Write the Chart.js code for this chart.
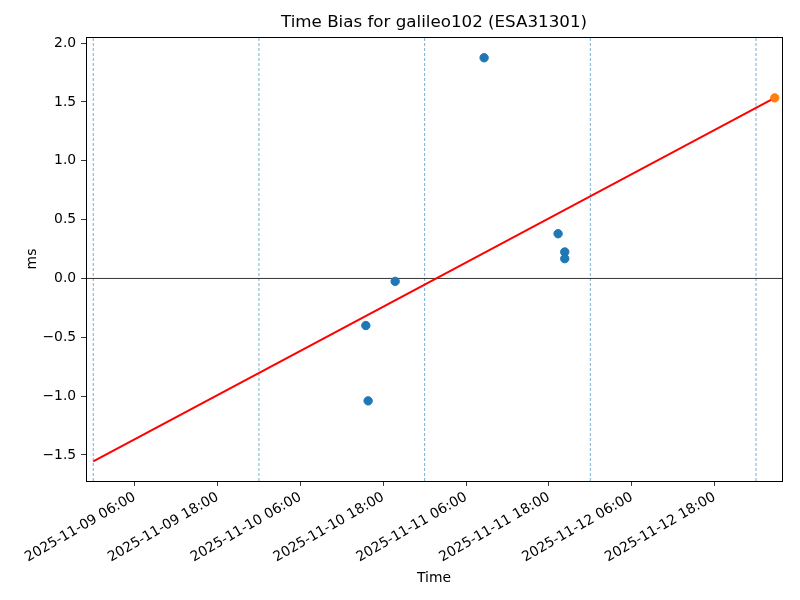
<!DOCTYPE html>
<html><head><meta charset="utf-8">
<script src="https://cdn.jsdelivr.net/npm/chart.js@4"></script>
<style>html,body{margin:0;padding:0;background:#fff}</style>
</head><body>
<canvas id="c" width="800" height="600"></canvas>
<script>
const chartTitle = 'Time Bias for galileo102 (ESA31301)';
const xAxisTitle = 'Time';
const yAxisTitle = 'ms';
const pointTimes = ['2025-11-10T15:29','2025-11-10T15:49','2025-11-10T19:44','2025-11-11T08:37','2025-11-11T19:20','2025-11-11T20:18','2025-11-11T20:18'];
const pointValues = [-0.40, -1.04, -0.025, 1.875, 0.38, 0.225, 0.168];
const predTimes = ['2025-11-13T02:43'];
const predValues = [1.534];
const fitTimes = ['2025-11-09T00:00','2025-11-13T02:43'];
const fitValues = [-1.555, 1.534];
const dayLines = ['2025-11-09T00:00','2025-11-10T00:00','2025-11-11T00:00','2025-11-12T00:00','2025-11-13T00:00'];
const xTickLabels = ['2025-11-09 06:00','2025-11-09 18:00','2025-11-10 06:00','2025-11-10 18:00','2025-11-11 06:00','2025-11-11 18:00','2025-11-12 06:00','2025-11-12 18:00'];
const yTicks = [-1.5, -1.0, -0.5, 0.0, 0.5, 1.0, 1.5, 2.0];
const xRange = ['2025-11-08T22:57','2025-11-13T03:46'];
const yRange = [-1.721, 2.051];

const T = s => Date.parse(s.replace(' ', 'T') + ':00Z');
const pad2 = n => String(n).padStart(2, '0');
const fmt = v => { const d = new Date(v); return d.getUTCFullYear() + '-' + pad2(d.getUTCMonth()+1) + '-' + pad2(d.getUTCDate()) + ' ' + pad2(d.getUTCHours()) + ':' + pad2(d.getUTCMinutes()); };
const fmtY = v => (v < 0 ? '\u2212' : '') + Math.abs(v).toFixed(1);

const FONT = 'DejaVu Sans';
const datasets = [];
datasets.push({ data: predTimes.map((t,i)=>({x:T(t), y:predValues[i]})), backgroundColor:'#ff7f0e', borderColor:'#ff7f0e', pointRadius:4.2, showLine:false });
datasets.push({ data: fitTimes.map((t,i)=>({x:T(t), y:fitValues[i]})), borderColor:'#ff0000', borderWidth:2, pointRadius:0, showLine:true });
datasets.push({ data: pointTimes.map((t,i)=>({x:T(t), y:pointValues[i]})), backgroundColor:'#1f77b4', borderColor:'#1f77b4', pointRadius:4.2, showLine:false });
datasets.push({ data: [{x:T(xRange[0]), y:0},{x:T(xRange[1]), y:0}], borderColor:'#000', borderWidth:0.8, pointRadius:0, showLine:true });
dayLines.forEach(d => datasets.push({ data:[{x:T(d), y:yRange[0]},{x:T(d), y:yRange[1]}], borderColor:'#1f77b4', borderWidth:0.6, borderDash:[3,2], pointRadius:0, showLine:true }));

const framePlugin = {
  id: 'frame',
  afterDatasetsDraw(chart) {
    const {ctx, chartArea: a} = chart;
    ctx.save(); ctx.strokeStyle = '#000'; ctx.lineWidth = 1;
    ctx.strokeRect(Math.round(a.left) + 0.5, Math.round(a.top) + 0.5, Math.round(a.right - a.left), Math.round(a.bottom - a.top));
    ctx.restore();
  }
};

new Chart(document.getElementById('c'), {
  type: 'scatter',
  data: { datasets },
  plugins: [framePlugin],
  options: {
    responsive: false, animation: false, devicePixelRatio: 1,
    layout: { padding: { left: 0, right: 18, top: 0, bottom: 0 } },
    plugins: {
      legend: { display: false }, tooltip: { enabled: false },
      title: { display: true, text: chartTitle, fullSize: false, color: '#000', font: { family: FONT, size: 16.7, weight: 'normal' }, padding: { top: 13, bottom: 4 } }
    },
    scales: {
      x: {
        type: 'linear', min: T(xRange[0]), max: T(xRange[1]),
        afterBuildTicks: s => { s.ticks = xTickLabels.map(l => ({ value: T(l) })); },
        afterFit: s => { s.height = 119; },
        ticks: { autoSkip: false, minRotation: 30, maxRotation: 30, color: '#000', font: { family: FONT, size: 13.9 }, padding: 3, callback: v => fmt(v) },
        grid: { drawOnChartArea: false, drawTicks: true, tickLength: 4.9, color: '#000', lineWidth: 0.8 },
        border: { display: false },
        title: { display: true, text: xAxisTitle, color: '#000', font: { family: FONT, size: 13.9 }, padding: { top: 0, bottom: 13 } }
      },
      y: {
        min: yRange[0], max: yRange[1],
        afterBuildTicks: s => { s.ticks = yTicks.map(v => ({ value: v })); },
        afterFit: s => { s.width = 86; },
        ticks: { color: '#000', font: { family: FONT, size: 13.9 }, padding: 4.9, callback: v => fmtY(v) },
        grid: { drawOnChartArea: false, drawTicks: true, tickLength: 4.9, color: '#000', lineWidth: 0.8 },
        border: { display: false },
        title: { display: true, text: yAxisTitle, color: '#000', font: { family: FONT, size: 13.9 }, padding: { top: 24, bottom: 0 } }
      }
    }
  }
});
</script>
</body></html>
